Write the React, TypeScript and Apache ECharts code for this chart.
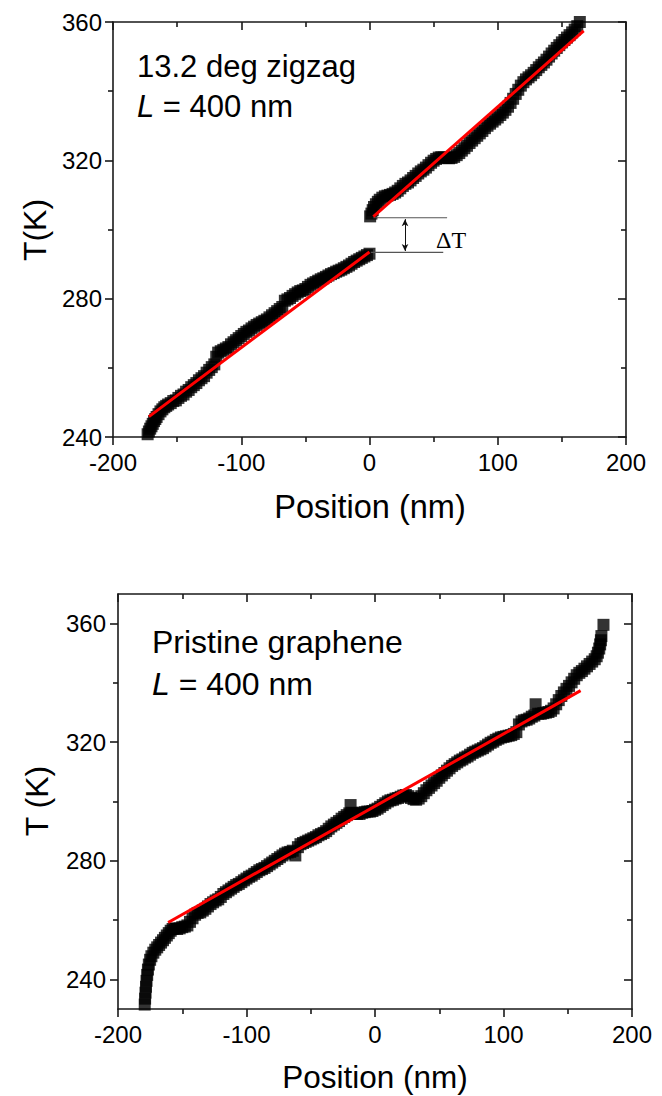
import React, { useEffect, useRef } from "react";
import * as echarts from "echarts";

// ---------- data ----------
// Top panel: 13.2 deg zigzag, L = 400 nm
const zigzagLeft: [number, number][] = [
  [-175, 238.2], [-174, 239.6], [-173, 240.8], [-172, 241.6], [-171, 242.4], [-170, 243.1], [-169, 243.8],
  [-168, 244.6], [-167, 245.2], [-166, 245.8], [-164.5, 246.6], [-163, 247.4], [-161.5, 248.0], [-160, 248.6],
  [-158.5, 249.0], [-157, 249.4], [-155, 249.8], [-153, 250.4], [-151, 250.6], [-149, 251.3], [-147, 251.9],
  [-145, 252.3], [-143, 253.1], [-141, 253.6], [-139, 254.4], [-137, 255.0], [-135, 255.6], [-133, 256.4],
  [-131, 257.0], [-129, 257.6], [-127, 258.6], [-125, 259.4], [-123, 260.2], [-121, 261.0], [-119.5, 263.2],
  [-118, 264.4], [-116, 264.8], [-114, 265.2], [-112, 265.6], [-110, 266.0], [-108, 266.8], [-106, 267.4],
  [-104, 268.0], [-102, 268.6], [-100, 269.2], [-98, 269.8], [-96, 270.4], [-94, 270.8], [-92, 271.4],
  [-90, 271.9], [-88, 272.4], [-86, 272.8], [-84, 273.2], [-82, 273.6], [-80, 274.0], [-78, 274.6],
  [-76, 275.2], [-74, 275.8], [-72, 276.4], [-70, 277.0], [-68, 277.6], [-66, 279.4], [-64, 279.8],
  [-62, 280.2], [-60, 280.8], [-58, 281.3], [-56, 281.8], [-54, 282.2], [-52, 282.4], [-50, 282.8],
  [-48, 283.4], [-46, 284.0], [-44, 284.4], [-42, 284.8], [-40, 285.2], [-38, 285.6], [-36, 285.9],
  [-34, 286.3], [-32, 286.7], [-30, 287.1], [-28, 287.4], [-26, 287.8], [-24, 288.1], [-22, 288.4],
  [-20, 288.8], [-18, 289.2], [-16, 289.6], [-14, 290.1], [-12, 290.6], [-10, 291.0], [-8, 291.4],
  [-6, 291.8], [-4, 292.2], [-2, 292.6], [0, 293.0],
];
const zigzagRight: [number, number][] = [
  [0.5, 303.8], [1.5, 304.6], [2.5, 305.6], [3.5, 306.5], [5, 307.3], [6.5, 308.0], [8, 308.6],
  [10, 309.2], [12, 309.6], [14, 309.8], [16, 310.0], [18, 310.3], [20, 310.7], [22, 311.2], [24, 311.9],
  [26, 312.6], [28, 313.2], [30, 313.6], [32, 314.2], [34, 314.9], [36, 315.5], [38, 316.2], [40, 316.8],
  [42, 317.3], [44, 317.9], [46, 318.6], [48, 319.3], [50, 319.9], [52, 320.4], [54, 320.8], [56, 320.9],
  [58, 320.8], [60, 320.7], [62, 320.6], [64, 320.7], [66, 321.0], [68, 321.5], [70, 322.1], [72, 322.8],
  [74, 323.5], [76, 324.2], [78, 325.0], [80, 325.7], [82, 326.4], [84, 327.1], [86, 327.8], [88, 328.5],
  [90, 329.3], [92, 330.0], [94, 330.6], [96, 331.2], [98, 331.8], [100, 332.4], [102, 333.1], [104, 333.8],
  [106, 334.6], [108, 335.5], [110, 336.6], [112, 337.8], [114, 339.2], [116, 340.4], [118, 341.6],
  [120, 342.6], [122, 343.4], [124, 344.0], [126, 344.6], [128, 345.3], [130, 346.1], [132, 346.9],
  [134, 347.6], [136, 348.3], [138, 349.1], [140, 350.0], [142, 350.9], [144, 351.7], [146, 352.5],
  [148, 353.3], [150, 354.1], [152, 354.8], [154, 355.5], [156, 356.2], [158, 357.0], [160, 357.8],
  [162, 358.8], [164, 360.0], [166, 361.2], [168, 362.5],
];
const zigzagFitLeft: [number, number][] = [[-172, 245.9], [0, 293.5]];
const zigzagFitRight: [number, number][] = [[3, 303.7], [167, 357.4]];
const deltaTUpper: [number, number][] = [[3, 303.4], [60.5, 303.4]];
const deltaTLower: [number, number][] = [[1, 293.4], [57.5, 293.4]];
const deltaTArrow: [number, number][] = [[27.7, 303.0], [27.7, 293.8]];

// Bottom panel: pristine graphene, L = 400 nm
const pristine: [number, number][] = [
  [-179.5, 229.5], [-179.2, 231.5], [-178.9, 233.5], [-178.6, 235.5], [-178.2, 237.5], [-177.8, 239.5],
  [-177.3, 241.5], [-176.7, 243.3], [-176, 245], [-175, 246.6], [-174, 247.8], [-172.5, 249.0],
  [-171, 250.0], [-169.5, 250.8], [-168, 251.6], [-166.5, 252.4], [-165, 253.2], [-163.5, 254.0],
  [-162, 254.8], [-160.5, 255.6], [-159, 256.4], [-157.5, 257.0], [-156, 257.2], [-154, 257.0],
  [-152, 257.2], [-150, 257.6], [-148, 257.8], [-146, 258.2], [-144, 259.4], [-142, 260.6], [-140, 261.8],
  [-138, 262.4], [-136, 262.6], [-134, 263.2], [-132, 263.8], [-130, 264.6], [-128, 265.4], [-126, 266.0],
  [-124, 266.6], [-122, 267.0], [-120, 267.8], [-118, 268.8], [-116, 269.4], [-114, 270.0], [-112, 270.6],
  [-110, 271.2], [-108, 271.8], [-106, 272.2], [-104, 272.8], [-102, 273.4], [-100, 274.0], [-98, 274.6],
  [-96, 275.0], [-94, 275.6], [-92, 276.2], [-90, 276.8], [-88, 277.2], [-86, 277.6], [-84, 278.2],
  [-82, 278.8], [-80, 279.4], [-78, 280.0], [-76, 280.6], [-74, 281.2], [-72, 281.8], [-70, 282.4],
  [-68, 282.8], [-66, 283.0], [-64, 283.4], [-62, 281.8], [-60, 284.6], [-58, 285.6], [-56, 286.0],
  [-54, 286.4], [-52, 286.8], [-50, 287.2], [-48, 287.6], [-46, 288.0], [-44, 288.6], [-42, 289.0],
  [-40, 289.4], [-38, 290.0], [-36, 290.8], [-34, 291.6], [-32, 292.2], [-30, 292.8], [-28, 293.4],
  [-26, 294.2], [-24, 294.8], [-22, 295.4], [-20, 296.0], [-19, 298.8], [-18, 296.2], [-16, 296.0],
  [-14, 295.8], [-12, 295.8], [-10, 296.2], [-8, 296.4], [-6, 296.6], [-4, 296.6], [-2, 296.8], [0, 297.2],
  [2, 297.6], [4, 298.2], [6, 298.8], [8, 299.4], [10, 300.0], [12, 300.4], [14, 300.6], [16, 301.0],
  [18, 301.2], [20, 301.6], [22, 302.0], [24, 302.2], [26, 301.8], [28, 301.2], [30, 300.8], [32, 300.6],
  [34, 301.0], [36, 301.8], [38, 302.8], [40, 303.8], [42, 304.6], [44, 305.4], [46, 306.2], [48, 307.0],
  [50, 308.0], [52, 308.8], [54, 309.6], [56, 310.4], [58, 311.2], [60, 312.0], [62, 312.6], [64, 313.2],
  [66, 313.8], [68, 314.2], [70, 314.8], [72, 315.2], [74, 315.8], [76, 316.4], [78, 316.8], [80, 317.2],
  [82, 317.6], [84, 318.0], [86, 318.6], [88, 319.2], [90, 319.8], [92, 320.2], [94, 320.8], [96, 321.2],
  [98, 321.6], [100, 321.8], [102, 322.0], [104, 322.2], [106, 322.4], [108, 322.8], [110, 323.4],
  [112, 326.0], [114, 327.0], [116, 327.4], [118, 327.6], [120, 328.0], [122, 328.6], [124, 329.0],
  [125, 332.8], [127, 329.6], [129, 329.6], [131, 329.8], [133, 330.0], [135, 330.2], [137, 330.6],
  [139, 331.4], [141, 332.8], [143, 334.2], [145, 335.6], [147, 336.8], [149, 338.0], [151, 339.0],
  [153, 340.2], [155, 341.4], [157, 342.6], [159, 343.4], [161, 344.0], [163, 344.8], [165, 345.6],
  [167, 346.4], [169, 347.2], [171, 348.0], [172.5, 349.0], [173.5, 350.2], [174.5, 351.6], [175.2, 353.0],
  [175.8, 354.4], [176.2, 355.8], [177.8, 359.6],
];
const pristineFit: [number, number][] = [[-161, 259.2], [160, 337.4]];

const xTicks = { min: -200, max: 200, interval: 100 };
const topYTicks = { min: 240, max: 360, interval: 40 };
const bottomYRange = { min: 230, max: 370 };
const bottomYMajor = [240, 280, 320, 360];
const bottomYMinor = [260, 300, 340];

// ---------- styling ----------
const AX = "#1a1a1a";
const FONT = '"Liberation Sans", Arial, sans-serif';
const lineStyle = { color: AX, width: 1.6 };

function xAxesFor(gridIndex: number) {
  const base = {
    type: "value",
    gridIndex,
    ...xTicks,
    splitLine: { show: false },
    axisLine: { show: true, onZero: false, lineStyle },
    minorTick: { show: true, splitNumber: 2, length: 5, lineStyle },
    minorSplitLine: { show: false },
  };
  return [
    {
      ...base,
      position: "bottom",
      axisTick: { show: true, inside: false, length: 8, lineStyle },
      axisLabel: { show: true, margin: 13, fontSize: 24, color: "#000", fontFamily: FONT },
    },
    {
      ...base,
      position: "top",
      axisTick: { show: true, inside: true, length: 8, lineStyle },
      axisLabel: { show: false },
    },
  ];
}

function topYAxes() {
  const base = {
    type: "value",
    gridIndex: 0,
    ...topYTicks,
    splitLine: { show: false },
    axisLine: { show: true, onZero: false, lineStyle },
    minorTick: { show: true, splitNumber: 2, length: 5, lineStyle },
    minorSplitLine: { show: false },
  };
  return [
    {
      ...base,
      position: "left",
      axisTick: { show: true, inside: false, length: 8, lineStyle },
      axisLabel: { show: true, margin: 11, fontSize: 24, color: "#000", fontFamily: FONT },
    },
    {
      ...base,
      position: "right",
      axisTick: { show: true, inside: true, length: 8, lineStyle },
      axisLabel: { show: false },
    },
  ];
}

function bottomYAxes() {
  const base = {
    type: "value",
    gridIndex: 1,
    ...bottomYRange,
    splitLine: { show: false },
  };
  return [
    {
      ...base,
      position: "left",
      axisLine: { show: true, onZero: false, lineStyle },
      axisTick: { show: true, inside: false, length: 8, lineStyle, customValues: bottomYMajor },
      axisLabel: { show: true, margin: 12, fontSize: 24, color: "#000", fontFamily: FONT, customValues: bottomYMajor },
    },
    {
      ...base,
      position: "left",
      axisLine: { show: false, onZero: false },
      axisTick: { show: true, inside: false, length: 5, lineStyle, customValues: bottomYMinor },
      axisLabel: { show: false },
    },
    {
      ...base,
      position: "right",
      axisLine: { show: true, onZero: false, lineStyle },
      axisTick: { show: true, inside: true, length: 8, lineStyle, customValues: bottomYMajor },
      axisLabel: { show: false },
    },
    {
      ...base,
      position: "right",
      axisLine: { show: false, onZero: false },
      axisTick: { show: true, inside: true, length: 5, lineStyle, customValues: bottomYMinor },
      axisLabel: { show: false },
    },
  ];
}

const scatterStyle = { symbol: "rect", symbolSize: 12, itemStyle: { color: "#000" } };
const fitStyle = { showSymbol: false, symbol: "none", lineStyle: { color: "#ff0000", width: 3 }, z: 5 };
const guideStyle = { showSymbol: false, symbol: "none", lineStyle: { color: "#555", width: 1.2 }, z: 4 };

function buildOption() {
  const [xb0, xt0] = xAxesFor(0);
  const [xb1, xt1] = xAxesFor(1);
  const [yl0, yr0] = topYAxes();
  const [yl1, yl1m, yr1, yr1m] = bottomYAxes();
  const textBase = { fill: "#000", fontFamily: FONT };
  return {
    animation: false,
    backgroundColor: "#fff",
    grid: [
      { left: 113, top: 22, width: 513, height: 415 },
      { left: 118, top: 594, width: 514, height: 415 },
    ],
    xAxis: [xb0, xt0, xb1, xt1],
    yAxis: [yl0, yr0, yl1, yl1m, yr1, yr1m],
    series: [
      { type: "scatter", xAxisIndex: 0, yAxisIndex: 0, data: zigzagLeft, ...scatterStyle },
      { type: "scatter", xAxisIndex: 0, yAxisIndex: 0, data: zigzagRight, ...scatterStyle },
      { type: "line", xAxisIndex: 0, yAxisIndex: 0, data: zigzagFitLeft, ...fitStyle },
      { type: "line", xAxisIndex: 0, yAxisIndex: 0, data: zigzagFitRight, ...fitStyle },
      { type: "line", xAxisIndex: 0, yAxisIndex: 0, data: deltaTUpper, ...guideStyle },
      { type: "line", xAxisIndex: 0, yAxisIndex: 0, data: deltaTLower, ...guideStyle },
      {
        type: "line",
        xAxisIndex: 0,
        yAxisIndex: 0,
        data: [],
        markLine: {
          silent: true,
          symbol: ["arrow", "arrow"],
          symbolSize: [5, 7],
          label: { show: false },
          lineStyle: { color: "#111", width: 1, type: "solid" },
          data: [[{ coord: deltaTArrow[0] }, { coord: deltaTArrow[1] }]],
        },
      },
      { type: "scatter", xAxisIndex: 2, yAxisIndex: 2, data: pristine, ...scatterStyle },
      { type: "line", xAxisIndex: 2, yAxisIndex: 2, data: pristineFit, ...fitStyle },
    ],
    graphic: [
      { type: "text", x: 137, y: 66, style: { ...textBase, text: "13.2 deg zigzag", fontSize: 31, verticalAlign: "middle" } },
      {
        type: "text",
        x: 137,
        y: 106,
        style: {
          ...textBase,
          text: "{i|L} = 400 nm",
          fontSize: 31,
          verticalAlign: "middle",
          rich: { i: { fontStyle: "italic", fontSize: 31, fontFamily: FONT, fill: "#000" } },
        },
      },
      { type: "text", x: 436, y: 240, style: { fill: "#000", text: "ΔT", fontSize: 24, fontFamily: '"Liberation Serif", "Times New Roman", serif', verticalAlign: "middle" } },
      { type: "text", x: 35, y: 230, rotation: Math.PI / 2, style: { ...textBase, text: "T(K)", fontSize: 32, align: "center", verticalAlign: "middle" } },
      { type: "text", x: 370, y: 507, style: { ...textBase, text: "Position (nm)", fontSize: 32.5, align: "center", verticalAlign: "middle" } },
      { type: "text", x: 152, y: 642, style: { ...textBase, text: "Pristine graphene", fontSize: 32, verticalAlign: "middle" } },
      {
        type: "text",
        x: 152,
        y: 684,
        style: {
          ...textBase,
          text: "{i|L} = 400 nm",
          fontSize: 32,
          verticalAlign: "middle",
          rich: { i: { fontStyle: "italic", fontSize: 32, fontFamily: FONT, fill: "#000" } },
        },
      },
      { type: "text", x: 37, y: 801, rotation: Math.PI / 2, style: { ...textBase, text: "T (K)", fontSize: 32, align: "center", verticalAlign: "middle" } },
      { type: "text", x: 375, y: 1077, style: { ...textBase, text: "Position (nm)", fontSize: 31.5, align: "center", verticalAlign: "middle" } },
    ],
  };
}

export default function App() {
  const ref = useRef<HTMLDivElement>(null);
  useEffect(() => {
    if (!ref.current) return;
    const chart = echarts.init(ref.current, null, { renderer: "svg" });
    chart.setOption(buildOption() as any);
    return () => chart.dispose();
  }, []);
  return (
    <div
      ref={ref}
      style={{ position: "absolute", left: 0, top: 0, width: 662, height: 1096, background: "#fff" }}
    />
  );
}
